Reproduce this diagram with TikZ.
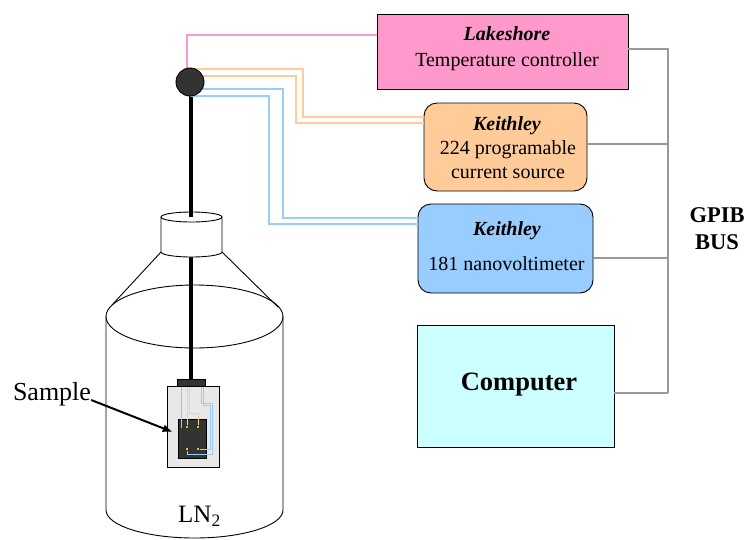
\documentclass[tikz,border=0pt]{standalone}
\usepackage{fontspec}
\setmainfont{Liberation Serif}
\usetikzlibrary{arrows.meta}
\definecolor{lspink}{HTML}{FF99CC}
\definecolor{korange}{HTML}{FFCC99}
\definecolor{kblue}{HTML}{99CCFF}
\definecolor{pccyan}{HTML}{CCFFFF}
\definecolor{busgray}{HTML}{999999}
\definecolor{darkpart}{HTML}{333333}
\definecolor{plategray}{HTML}{E8E8E8}
\definecolor{contact}{HTML}{E6D83C}

\begin{document}
\begin{tikzpicture}[x=1pt,y=-1pt,
  instr/.style={draw=black,line width=0.9pt,inner sep=0pt},
  txt/.style={anchor=base,inner sep=0pt,font=\fontsize{20}{24}\selectfont},
  bus/.style={draw=busgray,line width=2.7pt},
  wire/.style={line width=2.2pt},
  fine/.style={line width=1pt},
  outline/.style={draw=black,line width=0.9pt},
  rod/.style={draw=black,line width=4pt}
]
\useasboundingbox (0,0) rectangle (747,539);

% ---------- instruments ----------
\node[instr,fill=lspink,minimum width=251pt,minimum height=75pt] (ls) at (502.5,51.5) {};
\node[instr,fill=korange,rounded corners=13pt,minimum width=163pt,minimum height=88pt] (k224) at (505.5,147) {};
\node[instr,fill=kblue,rounded corners=13pt,minimum width=175pt,minimum height=89pt] (k181) at (505.5,248.5) {};
\node[instr,fill=pccyan,minimum width=197pt,minimum height=122pt] (pc) at (515.5,386) {};

\node[txt] (lsA) at (507,40) {\textbf{\textit{Lakeshore}}};
\node[txt] (lsB) at (507,66.5) {Temperature controller};
\node[txt] (k224A) at (507,130) {\textbf{\textit{Keithley}}};
\node[txt] (k224B) at (508,154) {224 programable};
\node[txt] (k224C) at (508,178) {current source};
\node[txt] (k181A) at (507,235) {\textbf{\textit{Keithley}}};
\node[txt] (k181B) at (506.5,270) {181 nanovoltimeter};
\node[txt,font=\fontsize{26.5}{30}\selectfont\bfseries] (pcA) at (519,390) {Computer};

% ---------- GPIB bus ----------
\coordinate (busB) at (668,393);
\draw[bus] ([yshift=2.5pt]ls.east) -| (busB);
\draw[bus] ([yshift=3pt]k224.east) -| (busB);
\draw[bus] ([yshift=-9.5pt]k181.east) -| (busB);
\draw[bus] ([yshift=-7pt]pc.east) -| (busB);
\node[txt,font=\fontsize{22.5}{26}\selectfont\bfseries] (gpA) at (717,222.7) {GPIB};
\node[txt,font=\fontsize{22.5}{26}\selectfont\bfseries] (gpB) at (717,249.3) {BUS};

% ---------- dewar ----------
\draw[outline] (106,316.5) -- (106,510) arc[start angle=180,end angle=360,x radius=88.5pt,y radius=28pt] -- (283,316.5);
\draw[outline] (194.5,316.5) ellipse[x radius=88.5pt,y radius=31.5pt];
\draw[outline] (161,252) -- (112,305);
\draw[outline] (222,252) -- (278,307);
\draw[rod] (190.5,250) -- (190.5,380);
\draw[outline,fill=white] (161,217) -- (161,252) arc[start angle=180,end angle=360,x radius=30.5pt,y radius=5pt] -- (222,217);
\draw[outline,fill=white] (191.5,217) ellipse[x radius=30.5pt,y radius=5pt];
\draw[rod] (190.5,82) -- (190.5,217);
\node[txt,font=\fontsize{25}{30}\selectfont] (ln) at (199.5,522.7) {LN\textsubscript{2}};

% ---------- sample holder ----------
\draw[fine,fill=plategray] (167,386) rectangle (219,467);
\draw[fine,fill=darkpart] (177,379) rectangle (205,386);
\node[draw=black,line width=0.6pt,fill=darkpart,minimum width=28pt,minimum height=39pt,inner sep=0pt] (chip) at (192,438.5) {};
\draw[fine,draw=lspink] (181,387) -- (181,428);
\draw[fine,draw=korange] (187,387) -- (187,427);
\draw[fine,draw=korange] (189,387) -- (189,413) -- (198.5,413) -- (198.5,427);
\draw[fine,draw=kblue] (201,387) -- (201,403) -- (212.5,403) -- (212.5,454) -- (187,454) -- (187,449);
\draw[fine,draw=kblue] (203,387) -- (203,405.5) -- (210.5,405.5) -- (210.5,449) -- (198,449);
\foreach \p in {(187,427),(198,427),(187,449),(198,449)}
  \draw[fill=contact,line width=0.4pt] \p circle[radius=1.8pt];

\node[txt,font=\fontsize{26}{30}\selectfont] (smp) at (52,400) {Sample};
\draw[line width=2pt,-{Latex[length=10pt,width=8pt]}] (smp.base east) -- ([xshift=-5pt,yshift=6.5pt]chip.west);

% ---------- wires from the probe head ----------
\coordinate (bc) at (190,82);
\draw[wire,draw=lspink] ([xshift=-3pt]bc) |- ([yshift=16.5pt]ls.west);
\draw[wire,draw=korange] ([yshift=13pt]bc) -- ++(113,0) |- ([yshift=30pt]k224.west);
\draw[wire,draw=korange] ([yshift=6pt]bc) -- ++(106,0) |- ([yshift=24pt]k224.west);
\draw[wire,draw=kblue] ([yshift=-7pt]bc) -- ++(93,0) |- ([yshift=30.5pt]k181.west);
\draw[wire,draw=kblue] ([yshift=-14pt]bc) -- ++(79,0) |- ([yshift=24.5pt]k181.west);
\node[circle,fill=darkpart,draw=black,line width=0.9pt,minimum size=28pt,inner sep=0pt] (ball) at (bc) {};
\end{tikzpicture}
\end{document}
